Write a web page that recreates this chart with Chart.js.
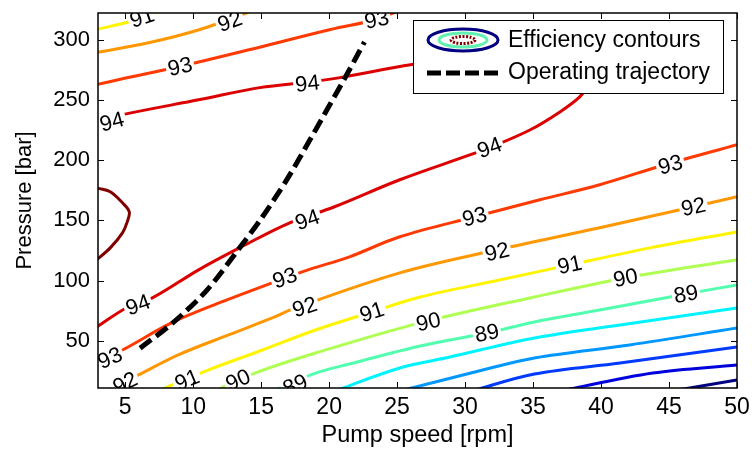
<!DOCTYPE html>
<html>
<head>
<meta charset="utf-8">
<title>Efficiency contours</title>
<style>
  html, body { margin: 0; padding: 0; background: #fff; }
  #wrap { width: 752px; height: 451px; }
</style>
</head>
<body>
<div id="wrap"><canvas id="effChart" width="752" height="451"></canvas></div>
<script src="https://cdn.jsdelivr.net/npm/chart.js@4.4.1/dist/chart.umd.min.js"></script>
<script>
// axis ticks
const speedTicks = [5, 10, 15, 20, 25, 30, 35, 40, 45, 50];
const pressureTicks = [50, 100, 150, 200, 250, 300];

// contour lines as [pump speed rpm, pressure bar]
const c95 = [[2.9, 177], [3.9, 173.8], [4.8, 164.6], [5.3, 157.1], [5.15, 148.8], [4.8, 139.7], [3.9, 127.2], [2.9, 117.3]];
const c94upper = [[2.9, 231.9], [4.8, 237.7], [10.5, 250.2], [14.9, 260.1], [18.7, 265], [20.8, 268.4], [26.1, 279.2], [30, 284], [35, 287]];
const c94lower = [[2.8, 60.8], [5.2, 78.2], [7.0, 85.7], [10.4, 109], [13.4, 127.2], [17.1, 148], [20.4, 161.3], [25.2, 183.7], [30.4, 204.5], [31.8, 210.3], [34.8, 225.2], [37, 240.2], [38.45, 252.7], [39.3, 265]];
const c93upper = [[2.9, 262.6], [4.8, 267.4], [9.0, 277.6], [14.2, 291.7], [20.1, 308.3], [23.5, 316.6], [24.8, 322.4], [26, 326]];
const c93lower = [[2.9, 32.6], [4.8, 42.5], [8.4, 65], [12.1, 82.4], [15.8, 98.2], [18.45, 109], [21.5, 119.8], [25.2, 136.4], [30.7, 153], [35.5, 167.1], [39.9, 179.6], [44.7, 196.2], [50, 212.8]];
const c92upper = [[2.9, 289.2], [6.8, 297.5], [10.5, 308.3], [14, 322.4], [14.5, 325]];
const c92lower = [[3.8, 9.3], [5.7, 20.1], [8.9, 38.4], [12.6, 55], [16, 69.9], [17.5, 77.4], [25.2, 106.5], [32.35, 125.6], [39.9, 143.9], [46.8, 161.3], [50, 169.6]];
const c91upper = [[2.9, 308.3], [5.35, 315], [7.3, 322.4], [7.8, 326]];
const c91lower = [[7.6, 8.5], [7.9, 11], [11.1, 25.9], [15.1, 42.5], [19, 59.1], [23.15, 74.1], [26.7, 86.5], [32.6, 100.7], [37.7, 113.1], [43.6, 127.2], [50, 140.5]];
const c90 = [[11.6, 8.5], [14.55, 23.4], [19, 40], [26.7, 65], [35.1, 86.5], [41.8, 102.3], [50, 117.3]];
const c89 = [[15.9, 8.5], [19, 23.4], [21.5, 30.9], [26.7, 45.8], [31.6, 56.6], [35.1, 65.8], [39.9, 75.7], [46.25, 89], [50, 96.5]];
const c88 = [[20.4, 8.5], [25.2, 27.6], [28.9, 36.7], [35.1, 52.5], [41.4, 63.3], [50, 77.4]];
const c87 = [[25.2, 8.5], [31.3, 25.9], [35.1, 35.9], [42.1, 46.7], [50, 60.8]];
const c86 = [[30.5, 8.5], [35.1, 22.6], [41.4, 31.7], [50, 45]];
const c85 = [[37, 8.5], [43.8, 23.4], [50, 30.1]];
const c84 = [[45.2, 8.5], [50, 17.6]];

// operating trajectory
const trajSpeed = [6.1, 8.5, 11.0, 13.4, 15.1, 16.9, 18.6, 21.3, 22.6];
const trajPressure = [44, 65, 92, 127, 153, 184, 217, 271, 298];

// inline contour labels
const labelLevels = [91, 92, 93, 93, 94, 94, 94, 94, 94, 93, 93, 93, 93, 92, 92, 92, 92, 91, 91, 91, 90, 90, 90, 89, 89, 89];
const labelSpeed = [6.24, 12.7, 9.03, 23.5, 4.03, 18.4, 5.94, 18.4, 31.8, 3.88, 16.75, 30.7, 45.1, 5.0, 18.2, 32.35, 46.8, 9.55, 23.15, 37.7, 13.3, 27.3, 41.8, 17.5, 31.6, 46.25];
const labelPressure = [318.3, 315, 277.6, 316.6, 231.9, 263.5, 79.9, 150.5, 210.3, 35.9, 102.3, 153, 196.2, 15.1, 78.2, 123.9, 161.3, 17.6, 74.1, 113.1, 17.6, 65.8, 102.3, 13.5, 56.6, 89];

const legendLabels = ['Efficiency contours', 'Operating trajectory'];

// jet colours per level
const levelColors = {
    84: '#000080', 85: '#0000DC', 86: '#003AFF', 87: '#0097FF', 88: '#00F4FF', 89: '#51FFAE',
    90: '#AEFF51', 91: '#FFF400', 92: '#FF9700', 93: '#FF3A00', 94: '#DC0000', 95: '#800000'
};

const FONT = 'Arial, "Liberation Sans", sans-serif';

const contourPieces = [
    [95, c95], [94, c94upper], [94, c94lower], [93, c93upper], [93, c93lower],
    [92, c92upper], [92, c92lower], [91, c91upper], [91, c91lower],
    [90, c90], [89, c89], [88, c88], [87, c87], [86, c86], [85, c85], [84, c84]
];

const datasets = [{
    label: legendLabels[1],
    data: trajSpeed.map((s, i) => ({ x: s, y: trajPressure[i] })),
    borderColor: '#000',
    borderWidth: 5,
    borderDash: [14, 6],
    borderCapStyle: 'butt',
    pointRadius: 0,
    tension: 0.3,
    clip: 0
}];
contourPieces.forEach(([level, pts]) => {
    datasets.push({
        label: 'contour ' + level,
        level: level,
        data: pts.map(p => ({ x: p[0], y: p[1] })),
        borderColor: levelColors[level],
        borderWidth: 3,
        pointRadius: 0,
        tension: 0.35,
        clip: 0
    });
});

// direction of the nearest contour segment of a level, in pixels
function lineAngle(chart, level, px, py) {
    const xs = chart.scales.x, ys = chart.scales.y;
    let best = Infinity, ang = 0;
    chart.data.datasets.forEach(ds => {
        if (ds.level !== level) return;
        for (let i = 0; i < ds.data.length - 1; i++) {
            const x1 = xs.getPixelForValue(ds.data[i].x), y1 = ys.getPixelForValue(ds.data[i].y);
            const x2 = xs.getPixelForValue(ds.data[i + 1].x), y2 = ys.getPixelForValue(ds.data[i + 1].y);
            const dx = x2 - x1, dy = y2 - y1;
            const len2 = dx * dx + dy * dy || 1;
            let t = ((px - x1) * dx + (py - y1) * dy) / len2;
            t = Math.max(0, Math.min(1, t));
            const d = Math.hypot(x1 + t * dx - px, y1 + t * dy - py);
            if (d < best) { best = d; ang = Math.atan2(dy, dx); }
        }
    });
    if (ang > Math.PI / 2) ang -= Math.PI;
    if (ang < -Math.PI / 2) ang += Math.PI;
    return ang;
}

const contourLabels = {
    id: 'contourLabels',
    beforeDatasetDraw(chart, args) {
        if (args.index !== 0) return;
        const { ctx, chartArea: a, scales: { x, y } } = chart;
        ctx.save();
        ctx.beginPath();
        ctx.rect(a.left, a.top, a.right - a.left, a.bottom - a.top);
        ctx.clip();
        ctx.font = '22px ' + FONT;
        ctx.textAlign = 'center';
        ctx.textBaseline = 'middle';
        labelLevels.forEach((lev, i) => {
            const px = x.getPixelForValue(labelSpeed[i]);
            const py = y.getPixelForValue(labelPressure[i]);
            const txt = String(lev);
            const w = ctx.measureText(txt).width;
            ctx.save();
            ctx.translate(px, py);
            ctx.rotate(lineAngle(chart, lev, px, py));
            ctx.fillStyle = '#fff';
            ctx.fillRect(-w / 2 - 2, -9, w + 4, 18);
            ctx.fillStyle = '#000';
            ctx.fillText(txt, 0, 1);
            ctx.restore();
        });
        ctx.restore();
    }
};

const frameAndLegend = {
    id: 'frameAndLegend',
    afterDraw(chart) {
        const { ctx, chartArea: a, scales: { x, y } } = chart;
        ctx.save();

        // legend box inside the axes
        const lw = 310, lh = 73;
        const lx = a.right - 14 - lw, ly = a.top + 7;
        ctx.fillStyle = '#fff';
        ctx.fillRect(lx, ly, lw, lh);
        ctx.strokeStyle = '#000';
        ctx.lineWidth = 1;
        ctx.strokeRect(lx + 0.5, ly + 0.5, lw, lh);

        const sx = lx + 50, r1 = ly + 20, r2 = ly + 53;
        const ring = (rx, ry, color, dash) => {
            ctx.beginPath();
            ctx.setLineDash(dash || []);
            ctx.ellipse(sx, r1, rx, ry, 0, 0, Math.PI * 2);
            ctx.strokeStyle = color;
            ctx.lineWidth = 3;
            ctx.stroke();
        };
        ring(35, 11, levelColors[84]);
        ring(24, 7, '#60F0B0');
        ring(12, 3.5, levelColors[95], [2, 1.5]);

        ctx.beginPath();
        ctx.setLineDash([14, 5]);
        ctx.lineCap = 'butt';
        ctx.moveTo(lx + 14, r2);
        ctx.lineTo(lx + 88, r2);
        ctx.strokeStyle = '#000';
        ctx.lineWidth = 5;
        ctx.stroke();
        ctx.setLineDash([]);

        ctx.fillStyle = '#000';
        ctx.font = '23px ' + FONT;
        ctx.textAlign = 'left';
        ctx.textBaseline = 'middle';
        ctx.fillText(legendLabels[0], lx + 95, r1 + 1);
        ctx.fillText(legendLabels[1], lx + 95, r2);

        // axes box with inward ticks on all sides
        ctx.strokeStyle = '#000';
        ctx.lineWidth = 1.5;
        ctx.strokeRect(a.left, a.top, a.right - a.left, a.bottom - a.top);
        ctx.lineWidth = 1;
        const tl = 6;
        ctx.beginPath();
        x.ticks.forEach(t => {
            const p = Math.round(x.getPixelForValue(t.value)) + 0.5;
            ctx.moveTo(p, a.bottom); ctx.lineTo(p, a.bottom - tl);
            ctx.moveTo(p, a.top); ctx.lineTo(p, a.top + tl);
        });
        y.ticks.forEach(t => {
            const p = Math.round(y.getPixelForValue(t.value)) + 0.5;
            ctx.moveTo(a.left, p); ctx.lineTo(a.left + tl, p);
            ctx.moveTo(a.right, p); ctx.lineTo(a.right - tl, p);
        });
        ctx.stroke();
        ctx.restore();
    }
};

new Chart(document.getElementById('effChart').getContext('2d'), {
    type: 'line',
    data: { datasets: datasets },
    options: {
        responsive: false,
        animation: false,
        layout: { padding: { left: 0, right: 15, top: 13, bottom: 0 } },
        plugins: {
            legend: { display: false },
            tooltip: { enabled: false }
        },
        scales: {
            x: {
                type: 'linear',
                min: 3,
                max: 50,
                afterBuildTicks: s => { s.ticks = speedTicks.map(v => ({ value: v })); },
                afterFit: s => { s.height = 63; s.paddingLeft = 0; s.paddingRight = 0; },
                grid: { display: false, drawTicks: false },
                border: { display: false },
                ticks: { color: '#000', font: { family: FONT, size: 23 }, padding: 6, maxRotation: 0, autoSkip: false },
                title: { display: true, text: 'Pump speed [rpm]', color: '#000', font: { family: FONT, size: 23.5 }, padding: { top: 0, bottom: 1 } }
            },
            y: {
                type: 'linear',
                min: 11,
                max: 322,
                afterBuildTicks: s => { s.ticks = pressureTicks.map(v => ({ value: v })); },
                afterFit: s => { s.width = 98; s.paddingTop = 0; s.paddingBottom = 0; },
                grid: { display: false, drawTicks: false },
                border: { display: false },
                ticks: { color: '#000', font: { family: FONT, size: 22 }, padding: 8, autoSkip: false },
                title: { display: true, text: 'Pressure [bar]', color: '#000', font: { family: FONT, size: 22 }, padding: { top: 12, bottom: 0 } }
            }
        }
    },
    plugins: [contourLabels, frameAndLegend]
});
</script>
</body>
</html>
